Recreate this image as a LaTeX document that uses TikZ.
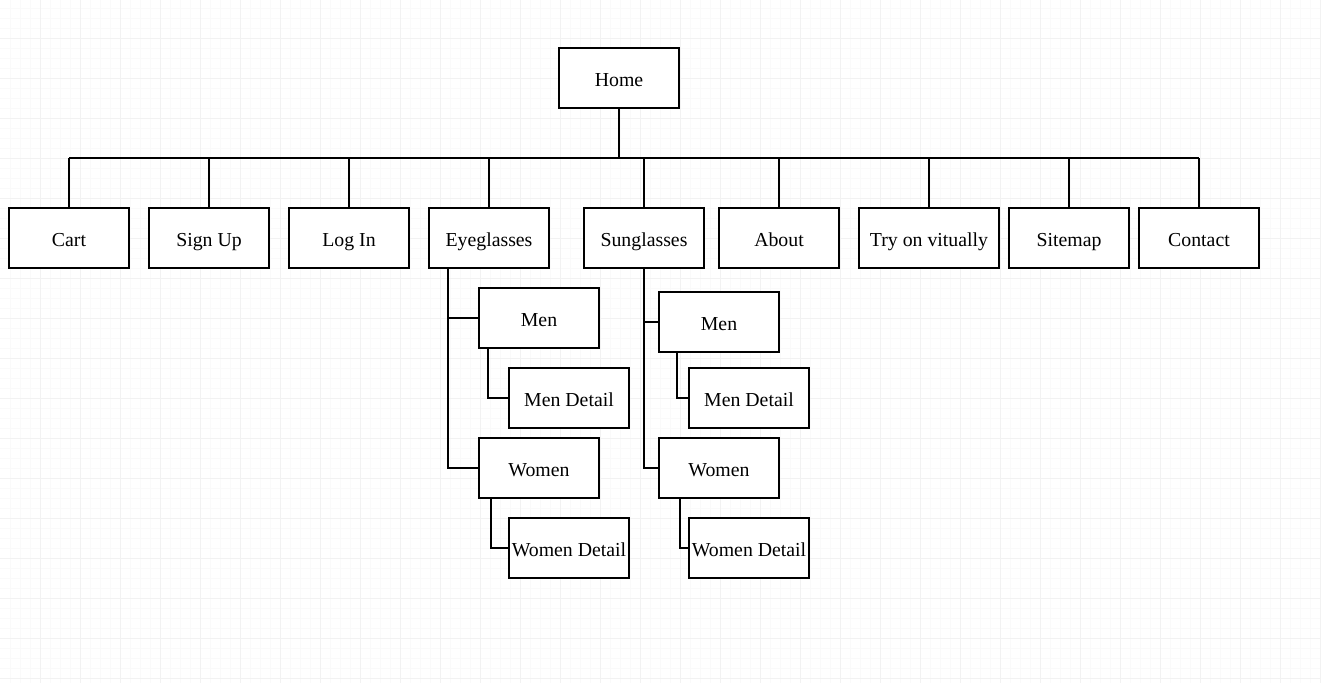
\documentclass[tikz,border=0pt]{standalone}
\usepackage{fontspec}
\setmainfont{Liberation Serif}
\usetikzlibrary{positioning}

\begin{document}
\begin{tikzpicture}[x=0.75pt,y=-0.75pt,
  font=\fontsize{14.85pt}{17pt}\selectfont,
  page/.style={draw=black,line width=1.5pt,fill=white,minimum width=90pt,minimum height=45pt,inner sep=0pt,align=center,text height=13.5pt,text depth=0.4pt},
  wide/.style={page,minimum width=105pt},
  link/.style={line width=1.5pt,black},
  gridminor/.style={line width=0.6pt,black!2},
  gridmajor/.style={line width=0.75pt,black!5}]
\pgfmathsetmacro{\busy}{158};

\useasboundingbox (0,0) rectangle (1321,683);

\begin{scope}
\foreach \gx in {10,20,...,1320} \draw[gridminor] (\gx,0) -- (\gx,683);
\foreach \gy in {8,18,...,678} \draw[gridminor] (0,\gy) -- (1321,\gy);
\foreach \gx in {40,80,...,1320} \draw[gridmajor] (\gx,0) -- (\gx,683);
\foreach \gy in {38,78,...,678} \draw[gridmajor] (0,\gy) -- (1321,\gy);
\end{scope}

\node[page] (home) at (619,78) {Home};

\node[page] (cart) at (69,238) {Cart};
\node[page] (signup) at (209,238) {Sign Up};
\node[page] (login) at (349,238) {Log In};
\node[page] (eye) at (489,238) {Eyeglasses};
\node[page] (sun) at (644,238) {Sunglasses};
\node[page] (about) at (779,238) {About};
\node[wide] (try) at (929,238) {Try on vitually};
\node[page] (sitemap) at (1069,238) {Sitemap};
\node[page] (contact) at (1199,238) {Contact};

% eyeglasses
\node[page] (emen) at (539,318) {Men};
\node[page] (emend) at (569,398) {Men Detail};
\node[page] (ewom) at (539,468) {Women};
\node[page] (ewomd) at (569,548) {Women Detail};

% sunglasses
\node[page] (smen) at (719,322) {Men};
\node[page] (smend) at (749,398) {Men Detail};
\node[page] (swom) at (719,468) {Women};
\node[page] (swomd) at (749,548) {Women Detail};

\coordinate (busl) at (69,\busy);
\coordinate (busr) at (1199,\busy);
\draw[link] (home.south) -- (home.south |- busl);
\draw[link] (busl) -- (busr);
\foreach \n in {cart,signup,login,eye,sun,about,try,sitemap,contact}
  \draw[link] (\n.north) -- (\n.north |- busl);

\draw[link] (eye.south west) ++(20,0) |- (emen.west);
\draw[link] (eye.south west) ++(20,0) |- (ewom.west);
\draw[link] (emen.south west) ++(10,0) |- (emend.west);
\draw[link] (ewom.south west) ++(13,0) |- (ewomd.west);

\draw[link] (sun.south) |- (smen.west);
\draw[link] (sun.south) |- (swom.west);
\draw[link] (smen.south west) ++(19,0) |- (smend.west);
\draw[link] (swom.south west) ++(22,0) |- (swomd.west);
\end{tikzpicture}
\end{document}
